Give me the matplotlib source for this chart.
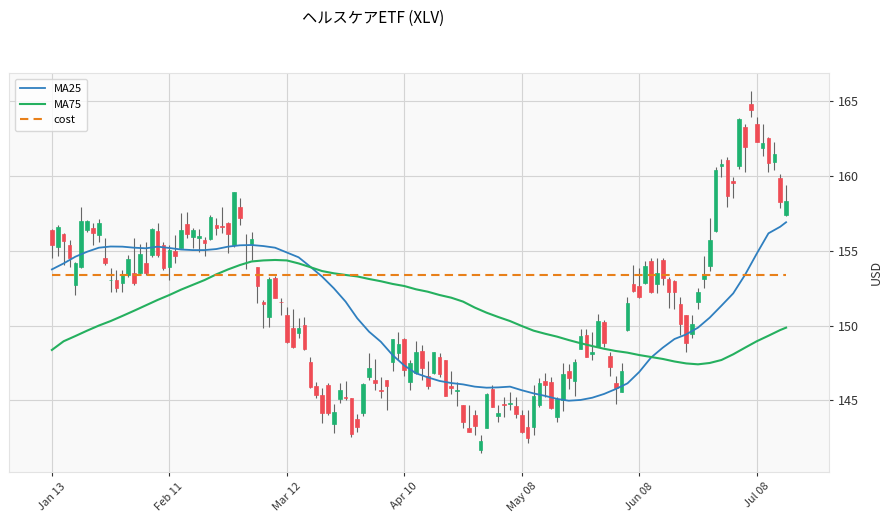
import matplotlib
matplotlib.use("Agg")
import matplotlib.pyplot as plt
import numpy as np

plt.rcParams['font.family'] = ['Noto Sans CJK JP', 'DejaVu Sans']

# ---- data ----
opens = [156.38, 155.27, 156.09, 155.38, 152.71, 153.93, 156.38, 156.49, 156.05, 154.49,
         153.02, 153.04, 152.86, 153.37, 153.49, 153.53, 154.15, 154.71, 156.34, 155.38,
         153.89, 155.00, 155.20, 156.76, 155.89, 155.87, 155.71, 155.78, 156.71, 156.62,
         156.83, 155.38, 157.89, 155.36, 155.42, 153.89, 151.57, 150.55, 153.20, 151.60,
         150.70, 149.82, 149.52, 150.04, 147.54, 145.96, 145.36, 146.03, 143.40, 145.09,
         145.25, 145.14, 143.76, 144.14, 146.59, 146.36, 145.69, 146.36, 147.59, 148.19,
         149.10, 146.25, 146.81, 148.30, 146.63, 146.81, 147.92, 147.70, 145.96, 145.61,
         144.69, 143.18, 144.02, 141.69, 143.13, 145.76, 143.98, 144.76, 144.78, 144.63,
         144.02, 143.20, 143.25, 144.69, 146.30, 146.21, 143.91, 145.03, 146.96, 146.30,
         148.43, 149.37, 148.08, 148.59, 150.26, 147.97, 146.14, 145.58, 149.70, 152.78,
         152.64, 152.82, 154.31, 152.78, 154.38, 153.11, 152.98, 151.44, 150.71, 149.41,
         151.55, 153.11, 154.00, 156.32, 160.66, 161.06, 159.66, 160.68, 163.24, 164.80,
         163.44, 161.84, 162.55, 160.95, 159.83, 157.39]
highs = [156.42, 156.71, 156.16, 155.71, 154.26, 157.89, 157.05, 156.87, 157.09, 155.82,
         153.82, 153.71, 153.71, 154.71, 155.82, 155.44, 155.60, 156.49, 156.83, 155.60,
         155.38, 156.05, 157.49, 157.60, 156.49, 156.42, 155.89, 157.38, 157.16, 157.89,
         156.94, 158.92, 158.50, 156.09, 156.27, 153.89, 151.70, 153.26, 153.33, 151.82,
         151.26, 151.08, 150.48, 150.59, 147.88, 146.25, 145.81, 146.18, 144.74, 146.14,
         146.32, 145.14, 144.09, 146.14, 148.14, 147.74, 146.54, 146.36, 149.08, 149.59,
         149.15, 147.70, 148.99, 148.70, 147.63, 148.21, 148.14, 147.70, 146.99, 146.21,
         144.69, 144.69, 144.36, 142.69, 145.52, 146.03, 144.69, 145.20, 145.58, 145.25,
         144.36, 144.36, 146.03, 146.47, 146.85, 146.59, 145.25, 147.48, 147.41, 147.74,
         149.75, 149.75, 149.59, 150.75, 150.37, 148.26, 146.65, 147.48, 151.93, 154.04,
         153.82, 154.31, 154.49, 154.49, 154.49, 153.27, 153.04, 151.93, 150.71, 150.71,
         152.49, 154.67, 157.21, 160.61, 161.13, 161.28, 159.95, 163.84, 163.44, 165.67,
         163.95, 163.44, 162.62, 162.24, 160.10, 159.39]
lows = [154.49, 154.64, 154.04, 153.89, 152.04, 153.82, 156.27, 155.38, 155.60, 154.04,
        152.26, 152.26, 152.26, 153.26, 152.71, 153.37, 153.37, 154.60, 154.60, 153.71,
        153.04, 154.20, 155.16, 155.82, 155.16, 154.93, 154.64, 155.71, 156.05, 156.16,
        154.87, 155.27, 156.71, 153.75, 154.38, 151.53, 149.81, 149.92, 151.82, 150.70,
        148.81, 148.48, 149.15, 148.37, 145.81, 145.14, 143.51, 144.03, 142.80, 144.80,
        145.03, 142.58, 142.91, 143.98, 146.36, 145.70, 145.14, 144.36, 146.96, 147.70,
        146.60, 145.70, 146.74, 146.36, 145.76, 146.74, 146.59, 145.29, 145.43, 144.63,
        143.13, 142.87, 142.69, 141.46, 143.13, 144.54, 143.58, 143.87, 144.36, 143.80,
        142.84, 142.13, 142.69, 144.54, 145.25, 144.40, 143.54, 144.29, 145.74, 145.30,
        148.41, 147.88, 147.70, 148.55, 148.59, 146.65, 144.74, 145.58, 149.66, 152.26,
        151.82, 152.75, 152.15, 152.15, 152.71, 151.20, 151.11, 149.37, 148.26, 149.15,
        151.11, 152.49, 153.64, 156.27, 159.95, 157.94, 158.50, 160.44, 160.28, 163.91,
        162.24, 161.35, 160.23, 160.39, 157.88, 157.34]
closes = [155.38, 156.60, 155.65, 154.49, 154.15, 156.98, 156.98, 156.16, 156.87, 154.15,
          153.06, 152.48, 153.37, 154.44, 152.82, 154.78, 153.53, 156.42, 154.71, 153.82,
          155.04, 154.67, 156.38, 156.09, 156.38, 155.98, 155.53, 157.27, 156.54, 156.58,
          156.09, 158.92, 157.20, 155.40, 155.78, 152.64, 151.44, 153.08, 151.86, 151.58,
          148.92, 148.59, 149.82, 148.41, 145.92, 145.36, 144.14, 144.18, 144.20, 145.70,
          145.18, 142.73, 143.25, 146.07, 147.14, 146.18, 145.65, 145.98, 149.08, 148.75,
          147.00, 147.48, 148.21, 147.19, 145.98, 148.21, 146.76, 145.32, 145.81, 145.70,
          143.58, 142.91, 143.29, 142.31, 145.43, 144.58, 144.14, 144.72, 144.82, 144.09,
          142.91, 142.47, 145.32, 146.19, 146.03, 144.52, 145.07, 146.74, 146.52, 147.59,
          149.30, 147.92, 148.26, 150.30, 148.86, 147.25, 145.85, 146.96, 151.48, 152.33,
          151.93, 153.98, 152.22, 153.49, 153.15, 152.26, 152.26, 150.08, 148.81, 150.08,
          152.22, 153.38, 155.71, 160.39, 160.79, 158.68, 159.55, 163.80, 161.95, 164.40,
          162.28, 162.17, 160.84, 161.44, 158.28, 158.32]

ma_pos = [0, 2, 4, 6, 8, 10, 12, 14, 16, 18, 20, 22, 24, 26, 28, 30, 32, 34, 36, 38,
          40, 42, 44, 46, 48, 50, 52, 54, 56, 58, 60, 62, 64, 66, 68, 70, 72, 74, 76, 78,
          80, 82, 84, 86, 88, 90, 92, 94, 96, 98, 100, 102, 104, 106, 108, 110, 112, 114,
          116, 118, 120, 122, 124, 125]
ma25 = [153.75, 154.15, 154.60, 154.93, 155.20, 155.28, 155.27, 155.20, 155.16, 155.27,
        155.18, 155.08, 155.04, 155.04, 155.11, 155.27, 155.36, 155.38, 155.31, 155.20,
        154.88, 154.56, 153.93, 153.27, 152.49, 151.60, 150.48, 149.59, 148.92, 148.03,
        147.33, 146.81, 146.54, 146.30, 146.16, 146.07, 145.92, 145.85, 145.87, 145.92,
        145.68, 145.47, 145.30, 145.10, 144.98, 145.03, 145.18, 145.43, 145.76, 146.14,
        146.90, 147.86, 148.52, 149.10, 149.41, 149.86, 150.53, 151.33, 152.15, 153.38,
        154.80, 156.16, 156.60, 156.90]
ma75 = [148.37, 148.95, 149.30, 149.66, 150.00, 150.30, 150.64, 150.99, 151.35, 151.71,
        152.04, 152.40, 152.72, 153.04, 153.42, 153.75, 154.04, 154.28, 154.35, 154.38,
        154.35, 154.15, 153.90, 153.64, 153.49, 153.38, 153.28, 153.11, 152.96, 152.78,
        152.64, 152.42, 152.26, 152.04, 151.86, 151.60, 151.20, 150.86, 150.57, 150.30,
        149.97, 149.66, 149.45, 149.26, 149.03, 148.82, 148.63, 148.45, 148.30, 148.19,
        148.03, 147.90, 147.77, 147.60, 147.47, 147.41, 147.50, 147.70, 148.08, 148.52,
        148.95, 149.32, 149.70, 149.86]
cost = 153.38

tick_pos = [0, 20, 40, 60, 80, 100, 120]
tick_labels = ['Jan 13', 'Feb 11', 'Mar 12', 'Apr 10', 'May 08', 'Jun 08', 'Jul 08']
title = 'ヘルスケアETF (XLV)'

# ---- figure ----
fig = plt.figure(figsize=(8.83, 5.25), dpi=100)
ax = fig.add_axes([0.0102, 0.101, 0.9286, 0.760])
ax.set_facecolor('#f9f9f9')

up_c = '#1fb371'
dn_c = '#ef4c55'
wick_c = '#666666'

o = np.array(opens); h = np.array(highs); l = np.array(lows); c = np.array(closes)
x = np.arange(len(o))
ax.vlines(x, l, h, color=wick_c, linewidth=0.8, zorder=2)
colors = [up_c if cc >= oo else dn_c for oo, cc in zip(o, c)]
ax.bar(x, np.abs(c - o), bottom=np.minimum(o, c), width=0.62,
       color=colors, edgecolor=colors, linewidth=0.5, zorder=3)

ax.plot(ma_pos, ma25, color='#2f7fbf', linewidth=1.3, label='MA25', zorder=4)
ax.plot(ma_pos, ma75, color='#25b05f', linewidth=1.5, label='MA75', zorder=4)
ax.plot([x[0], x[-1]], [cost, cost], color='#e8801a', linewidth=1.5,
        linestyle=(0, (4, 2.5)), label='cost', zorder=4)

ax.set_xlim(-7.3, 132.3)
ax.set_ylim(140.22, 166.87)
ax.set_xticks(tick_pos)
ax.set_xticklabels(tick_labels, rotation=45, fontsize=8, color='#333333')
ax.set_yticks([145, 150, 155, 160, 165])
ax.yaxis.tick_right()
ax.yaxis.set_label_position('right')
ax.tick_params(axis='y', labelsize=9, colors='#333333', length=3)
ax.tick_params(axis='x', length=3, colors='#333333')
ax.set_ylabel('USD', fontsize=9, color='#333333', labelpad=8)

ax.grid(True, color='#d4d4d4', linewidth=0.8)
ax.set_axisbelow(True)
for s in ax.spines.values():
    s.set_color('#e3e3e3')

leg = ax.legend(loc='upper left', fontsize=8, frameon=True, fancybox=True,
                borderpad=0.5, handlelength=2.2)
leg.get_frame().set_edgecolor('#d0d0d0')
leg.get_frame().set_facecolor('white')

fig.text(0.423, 0.966, title, ha='center', va='center', fontsize=11)

fig.savefig('out.png', dpi=100)
